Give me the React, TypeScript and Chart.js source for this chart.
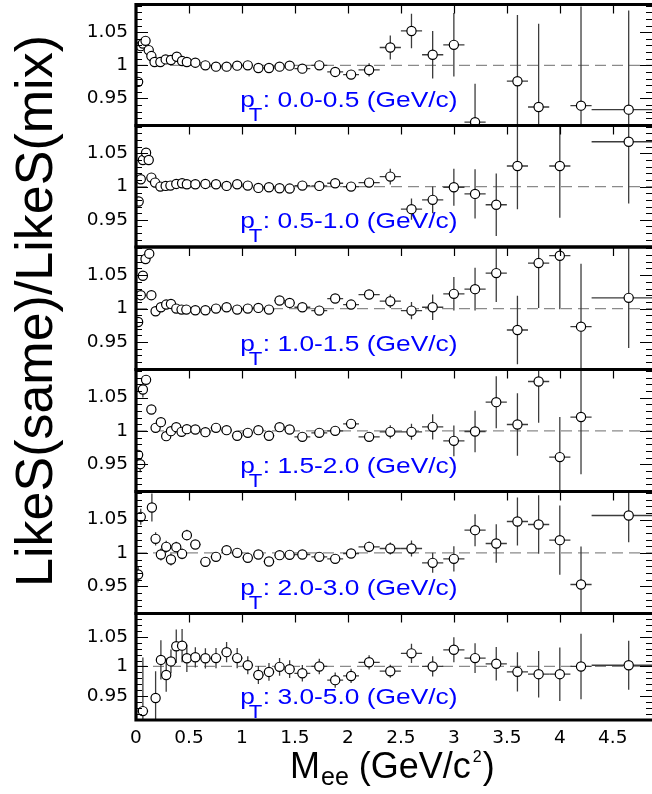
import React, { useEffect, useRef } from 'react';
import { Chart, registerables } from 'chart.js';

Chart.register(...registerables);

// ---------------- data ----------------
const PT_BINS = ['0.0-0.5', '0.5-1.0', '1.0-1.5', '1.5-2.0', '2.0-3.0', '3.0-5.0'];

const X_TICKS = [0, 0.5, 1, 1.5, 2, 2.5, 3, 3.5, 4, 4.5];
const X_TICK_LABELS = ['0', '0.5', '1', '1.5', '2', '2.5', '3', '3.5', '4', '4.5'];
const Y_TICKS = [0.95, 1, 1.05];
const Y_TICK_LABELS = ['0.95', '1', '1.05'];

// common binning above 0.5 GeV/c^2
const MASS_HI = [0.56, 0.655, 0.755, 0.855, 0.955, 1.055, 1.155, 1.255, 1.355, 1.45, 1.57, 1.73, 1.88, 2.03, 2.2, 2.4, 2.6, 2.8, 3.0, 3.2, 3.4, 3.6, 3.8, 4.0, 4.2, 4.65];
const DMASS_HI = [0.05, 0.05, 0.05, 0.05, 0.05, 0.05, 0.05, 0.05, 0.05, 0.05, 0.075, 0.075, 0.075, 0.075, 0.1, 0.1, 0.1, 0.1, 0.1, 0.1, 0.1, 0.1, 0.1, 0.1, 0.1, 0.35];

// pT 0.0-0.5
const P1_LO_M = [0.02, 0.045, 0.065, 0.09, 0.12, 0.145, 0.175, 0.23, 0.28, 0.33, 0.385, 0.435, 0.48];
const P1_LO_DM = [0.01, 0.01, 0.01, 0.01, 0.01, 0.01, 0.02, 0.025, 0.025, 0.025, 0.025, 0.025, 0.025];
const P1_LO_R = [0.975, 1.029, 1.033, 1.037, 1.023, 1.014, 1.005, 1.005, 1.009, 1.008, 1.013, 1.0065, 1.005];
const P1_LO_E = [0.004, 0.003, 0.003, 0.003, 0.003, 0.002, 0.002, 0.002, 0.002, 0.002, 0.002, 0.002, 0.002];
const P1_HI_R = [1.004, 1.0, 0.998, 0.998, 0.9995, 1.0, 0.996, 0.996, 0.998, 0.9995, 0.995, 1.0, 0.99, 0.986, 0.993, 1.027, 1.052, 1.016, 1.031, 0.914, null, 0.976, 0.937, null, 0.939, 0.933];
const P1_HI_E = [0.002, 0.002, 0.002, 0.002, 0.002, 0.002, 0.002, 0.002, 0.003, 0.003, 0.003, 0.004, 0.006, 0.007, 0.01, 0.018, 0.026, 0.036, 0.048, 0.058, 0, 0.1, 0.126, 0, 0.15, 0.15];

// pT 0.5-1.0
const P2_LO_M = [0.025, 0.045, 0.065, 0.095, 0.12, 0.145, 0.18, 0.23, 0.28, 0.325, 0.38, 0.435, 0.48];
const P2_LO_DM = [0.01, 0.01, 0.01, 0.01, 0.01, 0.01, 0.02, 0.025, 0.025, 0.025, 0.025, 0.025, 0.025];
const P2_LO_R = [0.9775, 1.011, 1.04, 1.051, 1.04, 1.0135, 1.006, 1.0, 1.001, 1.0015, 1.004, 1.005, 1.0035];
const P2_LO_E = [0.004, 0.003, 0.003, 0.003, 0.003, 0.002, 0.002, 0.002, 0.002, 0.002, 0.002, 0.002, 0.002];
const P2_HI_R = [1.0035, 1.004, 1.0035, 1.001, 1.0035, 1.0015, 0.998, 0.999, 0.9975, 0.997, 1.0015, 1.001, 1.005, 1.0, 1.006, 1.015, 0.966, 0.98, 0.999, 0.989, 0.9726, 1.031, null, 1.031, null, 1.0675];
const P2_HI_E = [0.002, 0.002, 0.002, 0.002, 0.002, 0.002, 0.002, 0.002, 0.002, 0.003, 0.003, 0.003, 0.004, 0.005, 0.007, 0.012, 0.016, 0.02, 0.028, 0.037, 0.047, 0.065, 0, 0.078, 0, 0.093];

// pT 1.0-1.5
const P3_LO_M = [0.02, 0.045, 0.065, 0.09, 0.125, 0.145, 0.185, 0.235, 0.285, 0.33, 0.38, 0.43, 0.475];
const P3_LO_DM = [0.01, 0.01, 0.01, 0.01, 0.01, 0.01, 0.02, 0.025, 0.025, 0.025, 0.025, 0.025, 0.025];
const P3_LO_R = [0.98, 1.02, 1.049, 1.074, 1.082, 1.02, 0.996, 1.002, 1.006, 1.007, 1.0, 0.9985, 0.9985];
const P3_LO_E = [0.004, 0.004, 0.004, 0.004, 0.004, 0.003, 0.003, 0.003, 0.003, 0.003, 0.003, 0.003, 0.003];
const P3_HI_R = [0.9975, 0.9975, 1.0, 1.002, 0.9985, 1.0, 1.001, 0.9985, 1.012, 1.0085, 1.002, 0.997, 1.015, 1.006, 1.021, 1.011, 0.997, 1.002, 1.022, 1.029, 1.053, 0.968, 1.068, 1.079, 0.973, 1.016];
const P3_HI_E = [0.002, 0.002, 0.002, 0.002, 0.002, 0.002, 0.002, 0.002, 0.003, 0.003, 0.003, 0.004, 0.005, 0.006, 0.007, 0.01, 0.013, 0.019, 0.025, 0.032, 0.043, 0.051, 0.067, 0.08, 0.094, 0.075];

// pT 1.5-2.0
const P4_LO_M = [0.02, 0.04, 0.065, 0.095, 0.145, 0.185, 0.235, 0.285, 0.33, 0.38, 0.43, 0.48];
const P4_LO_DM = [0.01, 0.01, 0.01, 0.015, 0.015, 0.02, 0.025, 0.025, 0.025, 0.025, 0.025, 0.025];
const P4_LO_R = [0.964, 0.95, 1.062, 1.0765, 1.032, 1.0045, 1.013, 0.992, 0.9995, 1.0055, 0.9985, 1.0025];
const P4_LO_E = [0.006, 0.012, 0.012, 0.006, 0.006, 0.004, 0.004, 0.004, 0.004, 0.004, 0.004, 0.004];
const P4_HI_R = [1.002, 0.998, 1.0045, 1.001, 0.9926, 0.997, 1.001, 0.9926, 1.0055, 1.002, 0.991, 0.997, 1.0, 1.0105, 0.991, 0.9985, 0.9985, 1.006, 0.985, 0.999, 1.043, 1.0095, 1.074, 0.9606, 1.0207, null];
const P4_HI_E = [0.002, 0.002, 0.002, 0.002, 0.002, 0.002, 0.003, 0.003, 0.003, 0.003, 0.003, 0.004, 0.005, 0.006, 0.007, 0.01, 0.012, 0.019, 0.023, 0.031, 0.039, 0.047, 0.062, 0.06, 0.086, 0];

// pT 2.0-3.0
const P5_LO_M = [0.02, 0.045, 0.15, 0.185, 0.235, 0.285, 0.33, 0.38, 0.435, 0.48];
const P5_LO_DM = [0.01, 0.01, 0.02, 0.02, 0.025, 0.025, 0.025, 0.025, 0.025, 0.025];
const P5_LO_R = [0.9675, 1.054, 1.068, 1.021, 0.9975, 1.009, 0.99, 1.0085, 0.9985, 1.0265];
const P5_LO_E = [0.012, 0.012, 0.021, 0.01, 0.009, 0.009, 0.009, 0.008, 0.008, 0.008];
const P5_HI_R = [1.0125, 0.9865, 0.994, 1.004, 1.0, 0.9925, 0.9975, 0.987, 0.9965, 0.997, 0.9975, 0.994, 0.991, 0.999, 1.009, 1.0065, 1.0065, 0.985, 0.991, 1.034, 1.014, 1.047, 1.0425, 1.019, 0.9525, 1.056];
const P5_HI_E = [0.005, 0.004, 0.004, 0.004, 0.004, 0.004, 0.004, 0.004, 0.004, 0.004, 0.004, 0.005, 0.005, 0.006, 0.008, 0.009, 0.012, 0.015, 0.019, 0.024, 0.029, 0.036, 0.044, 0.052, 0.057, 0.04];

// pT 3.0-5.0
const P6_LO_M = [0.065, 0.185, 0.235, 0.285, 0.33, 0.38, 0.435, 0.48];
const P6_LO_DM = [0.05, 0.025, 0.025, 0.025, 0.025, 0.025, 0.025, 0.025];
const P6_LO_R = [0.925, 0.947, 1.011, 0.9856, 1.0085, 1.034, 1.035, 1.0137];
const P6_LO_E = [0.09, 0.045, 0.033, 0.028, 0.02, 0.028, 0.028, 0.023];
const P6_HI_R = [1.0154, 1.0137, 1.014, 1.024, 1.014, 1.002, 0.9856, 0.9908, 0.9993, 0.9954, 0.9885, 1.0, 0.977, 0.984, 1.007, 0.992, 1.022, 1.0, 1.028, 1.014, 1.0045, 0.991, 0.987, 0.987, 1.0, 1.002];
const P6_HI_E = [0.017, 0.017, 0.017, 0.017, 0.017, 0.015, 0.015, 0.015, 0.015, 0.015, 0.014, 0.013, 0.013, 0.012, 0.012, 0.011, 0.016, 0.017, 0.021, 0.025, 0.028, 0.033, 0.039, 0.045, 0.055, 0.041];

const Y_RANGE = [0.909, 1.092];
const Y_RANGE_LAST = [0.91, 1.089];
const X_RANGE = [0, 4.87];

// table built from the arrays above
const PANELS = [
  { lo: [P1_LO_M, P1_LO_DM, P1_LO_R, P1_LO_E], hi: [P1_HI_R, P1_HI_E] },
  { lo: [P2_LO_M, P2_LO_DM, P2_LO_R, P2_LO_E], hi: [P2_HI_R, P2_HI_E] },
  { lo: [P3_LO_M, P3_LO_DM, P3_LO_R, P3_LO_E], hi: [P3_HI_R, P3_HI_E] },
  { lo: [P4_LO_M, P4_LO_DM, P4_LO_R, P4_LO_E], hi: [P4_HI_R, P4_HI_E] },
  { lo: [P5_LO_M, P5_LO_DM, P5_LO_R, P5_LO_E], hi: [P5_HI_R, P5_HI_E] },
  { lo: [P6_LO_M, P6_LO_DM, P6_LO_R, P6_LO_E], hi: [P6_HI_R, P6_HI_E] },
];

// ---------------- layout ----------------
const W = 652;
const H = 794;
const EDGES = [4.5, 125.5, 247, 369.5, 491.5, 613.5, 720];
const LEFT = 136;
const SANS = '"Liberation Sans", Arial, sans-serif';

type Pt = { x: number; y: number; ex: number; ey: number };

function panelPoints(i: number): Pt[] {
  const p = PANELS[i];
  const [m, dm, r, e] = p.lo;
  const [hr, he] = p.hi;
  const pts: Pt[] = [];
  m.forEach((mv, k) => {
    if (r[k] != null) pts.push({ x: mv, y: r[k] as number, ex: dm[k], ey: e[k] });
  });
  MASS_HI.forEach((mv, k) => {
    if (hr[k] != null) pts.push({ x: mv, y: hr[k] as number, ex: DMASS_HI[k], ey: he[k] });
  });
  return pts;
}

function drawPtLabel(ctx: CanvasRenderingContext2D, x0: number, base: number, range: string) {
  ctx.save();
  ctx.translate(x0, base);
  ctx.scale(1.17, 1);
  ctx.fillStyle = '#0000ff';
  ctx.textAlign = 'left';
  ctx.textBaseline = 'alphabetic';
  ctx.font = `22.5px ${SANS}`;
  ctx.fillText('p', 0, 0);
  let cx = ctx.measureText('p').width - 5.4;
  ctx.font = `19px ${SANS}`;
  ctx.fillText('T', cx, 14);
  cx += ctx.measureText('T').width + 0.5;
  ctx.font = `22.5px ${SANS}`;
  ctx.fillText(': ' + range + ' (GeV/c)', cx, 0);
  ctx.restore();
}

function drawTitles(ctx: CanvasRenderingContext2D) {
  ctx.save();
  ctx.fillStyle = '#000';
  ctx.textBaseline = 'alphabetic';
  // y title
  ctx.save();
  ctx.translate(52, 311);
  ctx.rotate(-Math.PI / 2);
  ctx.textAlign = 'center';
  ctx.font = `52px ${SANS}`;
  ctx.fillText('LikeS(same)/LikeS(mix)', 0, 0);
  ctx.restore();
  // x title
  ctx.textAlign = 'left';
  const base = 778;
  let cx = 290;
  ctx.font = `36px ${SANS}`;
  ctx.fillText('M', cx, base);
  cx += ctx.measureText('M').width + 1;
  ctx.font = `25px ${SANS}`;
  ctx.fillText('ee', cx, base + 7);
  cx += ctx.measureText('ee').width;
  ctx.font = `36px ${SANS}`;
  ctx.fillText(' (GeV/c', cx, base);
  cx += ctx.measureText(' (GeV/c').width + 2;
  ctx.font = `16px ${SANS}`;
  ctx.fillText('2', cx, base - 16);
  cx += ctx.measureText('2').width + 1;
  ctx.font = `36px ${SANS}`;
  ctx.fillText(')', cx, base);
  ctx.restore();
}

const panelPlugin = {
  id: 'rootPanel',
  beforeDatasetsDraw(chart: any, _args: any, opts: any) {
    const { ctx, chartArea: a, scales } = chart;
    const xs = scales.x;
    const ys = scales.y;
    ctx.save();
    ctx.beginPath();
    ctx.rect(a.left, a.top, a.right - a.left, a.bottom - a.top);
    ctx.clip();
    // reference line at 1
    const y1 = ys.getPixelForValue(1);
    ctx.strokeStyle = '#8a8a8a';
    ctx.lineWidth = 1.2;
    ctx.setLineDash([11, 6]);
    ctx.beginPath();
    ctx.moveTo(a.left, y1);
    ctx.lineTo(a.right, y1);
    ctx.stroke();
    ctx.setLineDash([]);
    // label
    drawPtLabel(ctx, xs.getPixelForValue(0.985), ys.getPixelForValue(0.937), opts.range);
    // error bars
    ctx.strokeStyle = '#3c3c3c';
    ctx.lineWidth = 1.3;
    for (const p of chart.data.datasets[0].data as Pt[]) {
      const px = xs.getPixelForValue(p.x);
      const py = ys.getPixelForValue(p.y);
      ctx.beginPath();
      ctx.moveTo(xs.getPixelForValue(p.x - p.ex), py);
      ctx.lineTo(xs.getPixelForValue(p.x + p.ex), py);
      if (p.ey > 0) {
        ctx.moveTo(px, ys.getPixelForValue(p.y - p.ey));
        ctx.lineTo(px, ys.getPixelForValue(p.y + p.ey));
      }
      ctx.stroke();
    }
    ctx.restore();
  },
  afterDatasetsDraw(chart: any, _args: any, opts: any) {
    const { ctx, chartArea: a, scales } = chart;
    const xs = scales.x;
    const ys = scales.y;
    ctx.save();
    ctx.strokeStyle = '#000';
    // y tick marks (left and right)
    ctx.lineWidth = 1.2;
    ctx.beginPath();
    const lo = Math.ceil(ys.min * 100);
    const hi = Math.floor(ys.max * 100);
    for (let k = lo; k <= hi; k++) {
      const py = Math.round(ys.getPixelForValue(k / 100)) + 0.5;
      const len = k % 5 === 0 ? 12 : 6;
      ctx.moveTo(a.left, py);
      ctx.lineTo(a.left + len, py);
      ctx.moveTo(a.right, py);
      ctx.lineTo(a.right - len, py);
    }
    // x tick marks along the top edge
    for (const v of X_TICKS) {
      if (v === 0) continue;
      const px = Math.round(xs.getPixelForValue(v)) + 0.5;
      ctx.moveTo(px, a.top);
      ctx.lineTo(px, a.top + 9);
    }
    ctx.stroke();
    // frame
    ctx.lineWidth = 3.2;
    ctx.beginPath();
    ctx.moveTo(a.left, a.top);
    ctx.lineTo(a.right + 2, a.top);
    ctx.moveTo(a.left, a.top - 1.6);
    ctx.lineTo(a.left, a.bottom + 1.6);
    ctx.moveTo(a.left, a.bottom);
    ctx.lineTo(a.right + 2, a.bottom);
    ctx.stroke();
    ctx.restore();
    if (opts.titles) drawTitles(ctx);
  },
};

function buildChart(canvas: HTMLCanvasElement, i: number) {
  const last = i === PANELS.length - 1;
  const top = EDGES[i];
  const bottom = EDGES[i + 1];
  const yr = last ? Y_RANGE_LAST : Y_RANGE;
  const zeroPad = (s: any) => {
    s.paddingTop = 0;
    s.paddingBottom = 0;
    s.paddingLeft = 0;
    s.paddingRight = 0;
  };
  return new Chart(canvas, {
    type: 'scatter',
    data: {
      datasets: [
        {
          data: panelPoints(i) as any,
          pointStyle: 'circle',
          pointRadius: 4.6,
          pointHoverRadius: 4.6,
          pointBorderWidth: 1.2,
          borderColor: '#000',
          backgroundColor: '#fff',
          pointBackgroundColor: '#fff',
          pointBorderColor: '#000',
          showLine: false,
        } as any,
      ],
    },
    plugins: [panelPlugin as any],
    options: {
      responsive: false,
      animation: false,
      devicePixelRatio: 1,
      events: [],
      layout: {
        autoPadding: false,
        padding: { left: 0, right: 0, top: top, bottom: last ? 0 : H - bottom },
      } as any,
      plugins: {
        legend: { display: false },
        tooltip: { enabled: false },
        rootPanel: { range: PT_BINS[i], titles: last },
      } as any,
      scales: {
        x: {
          type: 'linear',
          position: 'bottom',
          min: X_RANGE[0],
          max: X_RANGE[1],
          display: last,
          grid: { display: false, drawTicks: false },
          border: { display: false },
          afterBuildTicks: (s: any) => {
            s.ticks = X_TICKS.map((v) => ({ value: v }));
          },
          afterFit: (s: any) => {
            zeroPad(s);
            if (last) s.height = H - bottom;
          },
          ticks: {
            autoSkip: false,
            maxRotation: 0,
            minRotation: 0,
            padding: 7,
            color: '#000',
            font: { family: 'DejaVu Sans', size: 18.5 },
            callback: (_v: any, idx: number) => X_TICK_LABELS[idx],
          },
        },
        y: {
          type: 'linear',
          position: 'left',
          min: yr[0],
          max: yr[1],
          grid: { display: false, drawTicks: false },
          border: { display: false },
          afterBuildTicks: (s: any) => {
            s.ticks = Y_TICKS.map((v) => ({ value: v }));
          },
          afterFit: (s: any) => {
            zeroPad(s);
            s.width = LEFT;
          },
          ticks: {
            autoSkip: false,
            padding: 8,
            color: '#000',
            font: { family: 'DejaVu Sans', size: 18.5 },
            callback: (_v: any, idx: number) => Y_TICK_LABELS[idx],
          },
        },
      },
    } as any,
  });
}

export default function App() {
  const refs = useRef<(HTMLCanvasElement | null)[]>([]);
  useEffect(() => {
    const charts = PANELS.map((_, i) => buildChart(refs.current[i] as HTMLCanvasElement, i));
    return () => charts.forEach((c) => c.destroy());
  }, []);
  return (
    <div style={{ position: 'absolute', left: 0, top: 0, width: W, height: H, background: '#fff', overflow: 'hidden' }}>
      {PANELS.map((_, i) => (
        <canvas
          key={i}
          ref={(el) => {
            refs.current[i] = el;
          }}
          width={W}
          height={H}
          style={{ position: 'absolute', left: 0, top: 0, width: W, height: H }}
        />
      ))}
    </div>
  );
}
